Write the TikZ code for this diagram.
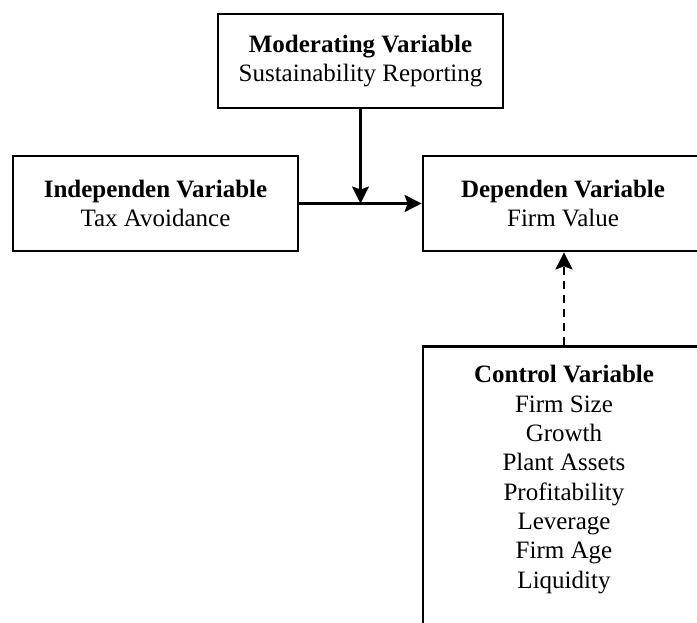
\documentclass[tikz,border=0pt]{standalone}
\usepackage{fontspec}
\setmainfont{Liberation Serif}
\usetikzlibrary{arrows.meta}
\begin{document}
\begin{tikzpicture}[x=1pt,y=1pt,
  varbox/.style={draw=black, line width=2.8pt, fill=white, align=center, inner sep=0pt,
    font=\fontsize{25}{29.3}\selectfont},
  conn/.style={line width=2.4pt, -{Stealth[length=17pt,width=17pt,inset=3pt]}},
  dashconn/.style={conn, dash pattern=on 8pt off 6pt}]
\useasboundingbox (0,0) rectangle (697,623);
\clip (0,0) rectangle (697,623);
\fill[white] (0,0) rectangle (697,623);
\node[varbox, minimum width=285pt, minimum height=94pt] (mod) at (360.5,562)
  {\textbf{Moderating Variable}\\Sustainability Reporting};
\node[varbox, minimum width=285pt, minimum height=95pt] (ind) at (155.5,419.5)
  {\textbf{Independen Variable}\\Tax Avoidance};
\node[varbox, minimum width=280pt, minimum height=95pt] (dep) at (563,419.5)
  {\textbf{Dependen Variable}\\Firm Value};
\node[varbox, minimum width=282pt, minimum height=350pt, anchor=north] (ctrlbox) at (564,278) {};
\node[align=center, inner sep=0pt, font=\fontsize{25}{29.3}\selectfont] (ctrl) at (564,143.5)
  {\textbf{Control Variable}\\Firm Size\\Growth\\Plant Assets\\Profitability\\Leverage\\Firm Age\\Liquidity};
\coordinate (join) at (mod.south |- ind.east);
\draw[conn] (ind.east) -- (dep.west);
\draw[conn] (mod.south) -- (join);
\draw[dashconn] (ctrlbox.north) -- (ctrlbox.north |- dep.south);
\end{tikzpicture}
\end{document}
